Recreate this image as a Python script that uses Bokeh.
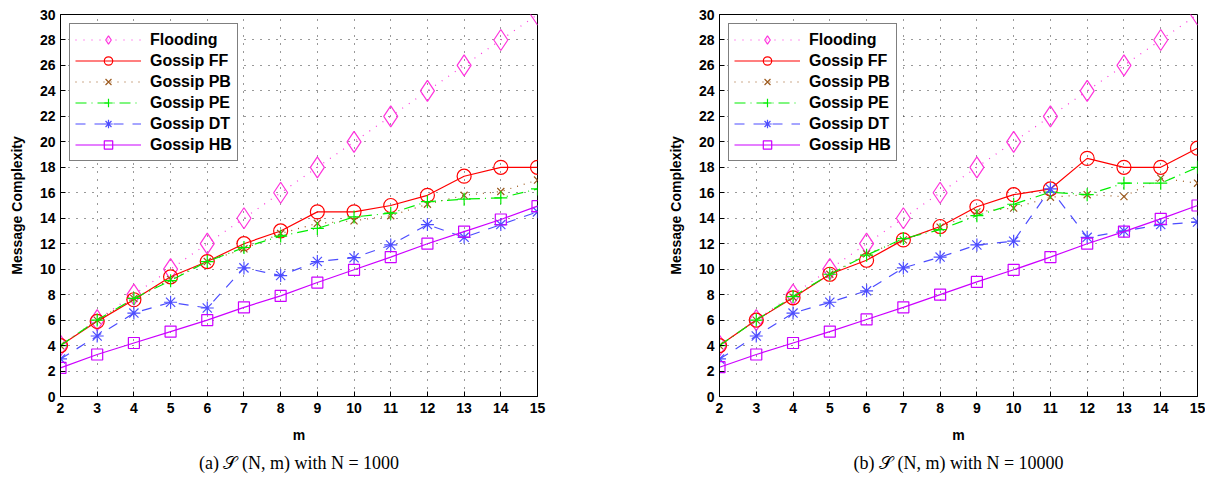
from bokeh.plotting import figure
from bokeh.layouts import row
from bokeh.models import Legend, LegendItem, Title, FixedTicker
from bokeh.embed import file_html
from bokeh.resources import INLINE

m = [2, 3, 4, 5, 6, 7, 8, 9, 10, 11, 12, 13, 14, 15]
y_ticks = [0, 2, 4, 6, 8, 10, 12, 14, 16, 18, 20, 22, 24, 26, 28, 30]
series_names = ["Flooding", "Gossip FF", "Gossip PB", "Gossip PE", "Gossip DT", "Gossip HB"]

# (a) N = 1000
flood_a = [4, 6, 8, 10, 12, 14, 16, 18, 20, 22, 24, 26, 28, 30]
ff_a = [4.0, 5.9, 7.6, 9.4, 10.6, 12.0, 13.0, 14.5, 14.5, 15.0, 15.8, 17.3, 18.0, 18.0]
pb_a = [4.0, 6.0, 7.7, 9.2, 10.6, 11.6, 12.8, 13.6, 13.8, 14.2, 15.1, 15.8, 16.1, 17.0]
pe_a = [4.0, 6.0, 7.7, 9.1, 10.6, 11.7, 12.6, 13.2, 14.1, 14.4, 15.3, 15.5, 15.6, 16.3]
dt_a = [2.95, 4.75, 6.55, 7.4, 6.95, 10.1, 9.5, 10.6, 10.9, 11.9, 13.5, 12.5, 13.5, 14.5]
hb_a = [2.25, 3.3, 4.2, 5.1, 6.0, 7.0, 7.9, 8.95, 9.95, 10.95, 12.0, 12.95, 13.9, 14.95]

# (b) N = 10000
flood_b = [4, 6, 8, 10, 12, 14, 16, 18, 20, 22, 24, 26, 28, 30]
ff_b = [4.0, 6.0, 7.75, 9.6, 10.7, 12.3, 13.35, 14.9, 15.85, 16.3, 18.7, 18.0, 18.0, 19.5]
pb_b = [4.0, 6.0, 7.8, 9.6, 11.2, 12.3, 13.3, 14.5, 14.8, 15.65, 15.85, 15.7, 17.15, 16.75]
pe_b = [4.0, 6.0, 7.85, 9.6, 11.1, 12.4, 13.1, 14.2, 15.1, 16.05, 15.85, 16.75, 16.75, 18.0]
dt_b = [2.95, 4.75, 6.55, 7.4, 8.3, 10.1, 10.95, 11.9, 12.2, 16.3, 12.5, 13.0, 13.5, 13.7]
hb_b = [2.3, 3.3, 4.2, 5.1, 6.05, 7.0, 8.0, 9.0, 9.95, 10.95, 12.0, 12.95, 13.95, 15.0]

caption_a = "(a) \U0001D4AE (N, m) with N = 1000"
caption_b = "(b) \U0001D4AE (N, m) with N = 10000"

styles = [
    dict(color="#FF33DD", dash="1 7", marker="diamond", size=21),
    dict(color="#FF0000", dash="solid", marker="circle", size=14),
    dict(color="#9C5A1E", dash="1 6", marker="x", size=10),
    dict(color="#00EE00", dash="11 5 1 5", marker="cross", size=13),
    dict(color="#4D4DFF", dash="10 9", marker="asterisk", size=13),
    dict(color="#CC00FF", dash="solid", marker="square", size=11),
]

FONT = "Liberation Sans"


def make_fig(series, caption, width, left, right):
    p = figure(width=width, height=480, x_range=(2, 15), y_range=(0, 30),
               output_backend="svg", toolbar_location=None,
               min_border_left=left, min_border_right=right,
               min_border_top=14, min_border_bottom=84)
    p.outline_line_color = "black"
    p.outline_line_width = 1
    p.background_fill_color = "white"
    p.border_fill_color = "white"

    p.xaxis.ticker = FixedTicker(ticks=m)
    p.yaxis.ticker = FixedTicker(ticks=y_ticks)
    for ax in (p.xaxis[0], p.yaxis[0]):
        ax.major_tick_in = 5
        ax.major_tick_out = 0
        ax.minor_tick_line_color = None
        ax.axis_line_color = "black"
        ax.major_tick_line_color = "black"
        ax.major_label_text_font = FONT
        ax.major_label_text_font_style = "bold"
        ax.major_label_text_font_size = "14px"
        ax.major_label_text_color = "black"
        ax.axis_label_text_font = FONT
        ax.axis_label_text_font_style = "bold"
        ax.axis_label_text_font_size = "14px"
        ax.axis_label_text_color = "black"
    p.xaxis.axis_label = "m"
    p.yaxis.axis_label = "Message Complexity"
    p.xaxis.major_label_standoff = 6
    p.yaxis.major_label_standoff = 5
    p.xaxis.axis_label_standoff = 11
    p.yaxis.axis_label_standoff = 12

    for g in (p.xgrid[0], p.ygrid[0]):
        g.grid_line_color = "black"
        g.grid_line_dash = "1 7"
        g.grid_line_width = 1
        g.grid_line_alpha = 0.8

    items = []
    for name, ys, st in zip(series_names, series, styles):
        lr = p.line(m, ys, line_color=st["color"], line_dash=st["dash"], line_width=1.2)
        mr = p.scatter(m, ys, marker=st["marker"], size=st["size"],
                       line_color=st["color"], fill_alpha=0, line_width=1.2)
        items.append(LegendItem(label=name, renderers=[lr, mr]))

    leg = Legend(items=items, location="top_left")
    leg.margin = 9
    leg.padding = 5
    leg.spacing = 0
    leg.glyph_width = 66
    leg.glyph_height = 21
    leg.label_height = 21
    leg.label_standoff = 9
    leg.label_text_font = FONT
    leg.label_text_font_style = "bold"
    leg.label_text_font_size = "16px"
    leg.label_text_color = "black"
    leg.border_line_color = "black"
    leg.border_line_width = 1
    leg.background_fill_alpha = 1
    p.add_layout(leg, "center")

    cap = Title(text=caption, align="center", text_font="Liberation Serif",
                text_font_style="normal", text_font_size="18px", text_color="black",
                standoff=10)
    p.add_layout(cap, "below")
    return p


p1 = make_fig([flood_a, ff_a, pb_a, pe_a, dt_a, hb_a], caption_a, 659, 60, 122)
p2 = make_fig([flood_b, ff_b, pb_b, pe_b, dt_b, hb_b], caption_b, 546, 60, 8)

layout = row(p1, p2, spacing=0)
open("out.html", "w").write(file_html(layout, INLINE))
